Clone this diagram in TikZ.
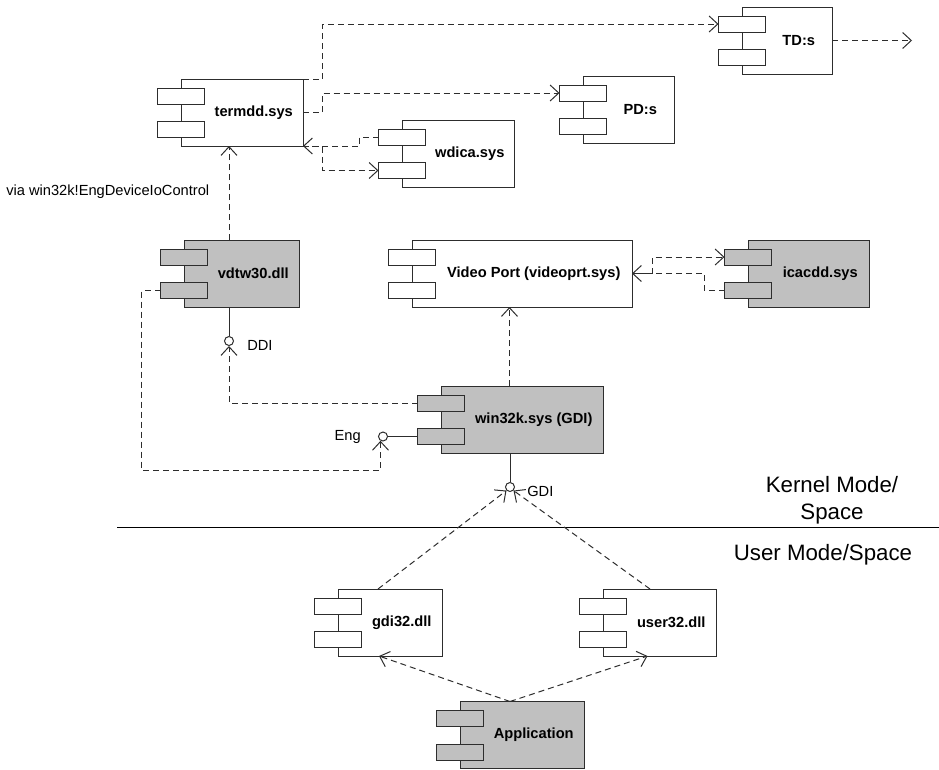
\documentclass[tikz,border=0pt]{standalone}
\usepackage{fontspec}
\setmainfont{Liberation Sans}
\usepackage{tikz}
\usetikzlibrary{arrows.meta, positioning, calc}
\definecolor{compgray}{RGB}{192, 192, 192}
\definecolor{linegray}{RGB}{45, 45, 45}

\begin{document}
\begin{tikzpicture}[
    x=0.75pt, y=-0.75pt,
    every node/.style={font=\fontsize{11}{13}\selectfont},
    body/.style={rectangle, draw=linegray, line width=0.75pt, anchor=north west, inner sep=0pt, outer sep=0pt, minimum height=50.25pt},
    port/.style={rectangle, draw=linegray, line width=0.75pt, inner sep=0pt, outer sep=0pt, minimum width=35.25pt, minimum height=12pt},
    title/.style={inner sep=0pt, font=\fontsize{11}{13}\selectfont\bfseries},
    lbl/.style={inner sep=0pt},
    big/.style={inner sep=0pt, align=center, font=\fontsize{16.7}{20.5}\selectfont},
    iface/.style={circle, draw=linegray, fill=white, line width=0.75pt, minimum size=6.75pt, inner sep=0pt},
    dep/.style={draw=linegray, line width=0.75pt, dash pattern=on 4.5pt off 3pt, -{Straight Barb[length=6.5pt, width=12pt]}},
    solidline/.style={draw=linegray, line width=0.75pt}
]
\useasboundingbox (0,0) rectangle (939,769);

% components: name/x/y/width/fill/label
\foreach \n/\x/\y/\w/\f/\lbl in {
    termdd/181/79/122/white/termdd.sys,
    wdica/402/120/112/white/wdica.sys,
    tds/742/7/90/white/TD:s,
    pds/583/76/91/white/PD:s,
    vdtw/184/240/115/compgray/vdtw30.dll,
    video/412/240/220/white/Video Port (videoprt.sys),
    icacdd/748/240/121/compgray/icacdd.sys,
    win32k/441/386/162/compgray/win32k.sys (GDI),
    gdi32/338/589/104/white/gdi32.dll,
    user32/603/589/113/white/user32.dll,
    app/460/701.5/124/compgray/Application}{
  \node[body, fill=\f, minimum width=\w*0.75pt] (\n) at (\x,\y) {};
  \node[port, fill=\f] (\n-a) at ($(\n.north west)+(0,17)$) {};
  \node[port, fill=\f] (\n-b) at ($(\n.north west)+(0,50.5)$) {};
  \node[title] (\n-t) at ($(\n-a.east |- \n.center)!0.5!(\n.east)$) {\lbl};
}

% termdd.sys and its drivers
\draw[dep] (termdd.north east) -- ++(19.5,0) |- (tds-a.west);
\draw[dep] (termdd.east) -- ++(19.5,0) |- (pds-a.west);
\draw[dep] (wdica-a.west) -- ++(-19.5,0) |- (termdd.south east);
\draw[dep] (termdd.south east) -- ++(19.5,0) |- (wdica-b.west);
\coordinate (tdsout) at ($(tds.east)+(80,0)$);
\draw[dep] (tds.east) -- (tdsout);

% vdtw30.dll
\coordinate (vtop) at ($(vdtw.north west)+(45,0)$);
\draw[dep] (vtop) -- (vtop |- termdd.south);
\node[lbl, anchor=west] (via-t) at (6,191.7) {via win32k!EngDeviceIoControl};
\node[iface] (ddi) at ($(vdtw.south west)+(45,34)$) {};
\draw[solidline] (ddi |- vdtw.south) -- (ddi.north);
\node[lbl, anchor=west] (ddi-t) at ($(ddi.east)+(13,4.5)$) {DDI};
\draw[dep] (win32k-a.west) -| (ddi.south);

% Eng interface
\node[iface] (eng) at ($(win32k-b.west)+(-34.5,0)$) {};
\draw[solidline] (eng.east) -- (win32k-b.west);
\node[lbl, anchor=east] (eng-t) at ($(eng.west)+(-17,0.5)$) {Eng};
\draw[dep] (vdtw-b.west) -- ++(-19,0) -- ++(0,179.5) -| (eng.-120);

% win32k.sys
\coordinate (wtop) at ($(win32k.north west)+(68.5,0)$);
\draw[dep] (wtop) -- (wtop |- video.south);
\draw[dep] (video.east) -- ++(20,0) |- (icacdd-a.west);
\draw[dep] (icacdd-b.west) -- ++(-20,0) |- (video.east);
\node[iface] (gdi) at ($(win32k.south west)+(69,34)$) {};
\draw[solidline] (gdi |- win32k.south) -- (gdi.north);
\node[lbl, anchor=west] (gdi-t) at ($(gdi.east)+(12,4)$) {GDI};

% kernel / user boundary
\draw[line width=0.75pt] (117,527.3) -- (939,527.3);
\node[big] (kernel-t) at (832,500) {Kernel Mode/\\Space};
\node[big] (user-t) at (823,555) {User Mode/Space};

% user mode
\draw[dep] ($(gdi32.north west)+(40,0)$) -- (gdi.south west);
\draw[dep] ($(user32.north west)+(47,0)$) -- (gdi.south east);
\coordinate (atop) at ($(app.north west)+(50,0)$);
\draw[dep] (atop) -- ($(gdi32.south west)+(41,0)$);
\draw[dep] (atop) -- ($(user32.south west)+(44.5,0)$);
\end{tikzpicture}
\end{document}
